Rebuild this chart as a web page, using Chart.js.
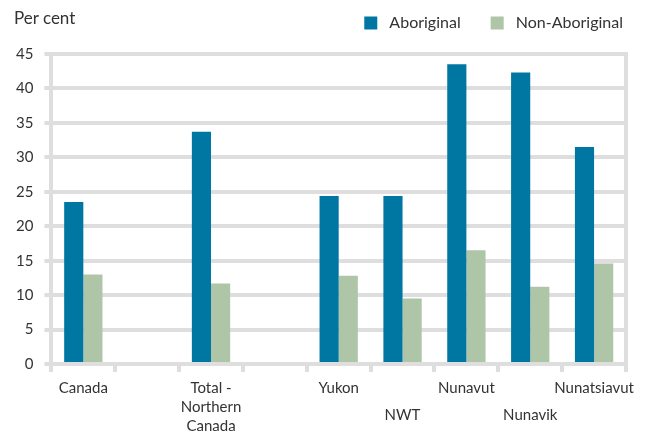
<!DOCTYPE html>
<html>
<head>
<meta charset="utf-8">
<script src="https://cdn.jsdelivr.net/npm/chart.js@4.4.1/dist/chart.umd.min.js"></script>
<style>
  html, body { margin: 0; padding: 0; background: #fff; }
  .wrap { position: relative; width: 647px; height: 431px; }
  .unit {
    position: absolute; left: 14px; top: 7px;
    font: 17px Lato, "Noto Sans", sans-serif; color: #333;
  }
</style>
</head>
<body>
<div class="wrap">
  <div class="unit">Per cent</div>
  <canvas id="chart" width="647" height="431"></canvas>
</div>
<script>
// Regions (blank slots keep the gaps between groups)
const regions = [
  ["Canada"], [""], ["Total -", "Northern", "Canada"], [""],
  ["Yukon"], ["", "NWT"], ["Nunavut"], ["", "Nunavik"], ["Nunatsiavut"]
];
const aboriginal = [23.5, null, 33.7, null, 24.4, 24.4, 43.5, 42.3, 31.5];
const nonAboriginal = [13.0, null, 11.7, null, 12.8, 9.5, 16.5, 11.2, 14.6];
const yTicks = [0, 5, 10, 15, 20, 25, 30, 35, 40, 45];

const gridColor = "#dedede";
const fontFamily = "Lato, 'Noto Sans', sans-serif";

// extra room under the legend
const legendGap = {
  id: "legendGap",
  beforeInit(chart) {
    const fitValue = chart.legend.fit;
    chart.legend.fit = function fit() {
      fitValue.bind(chart.legend)();
      this.height += 13;
    };
  },
};

const ctx = document.getElementById("chart");
new Chart(ctx, {
  type: "bar",
  data: {
    labels: regions,
    datasets: [
      {
        label: "Aboriginal",
        data: aboriginal,
        backgroundColor: "#0077a2",
        categoryPercentage: 0.6,
        barPercentage: 1,
      },
      {
        label: "Non-Aboriginal",
        data: nonAboriginal,
        backgroundColor: "#aec5a8",
        categoryPercentage: 0.6,
        barPercentage: 1,
      },
    ],
  },
  options: {
    responsive: false,
    animation: false,
    layout: {
      padding: { left: 5, right: 10, top: 1, bottom: -12 },
    },
    plugins: {
      legend: {
        position: "top",
        align: "end",
        labels: {
          boxWidth: 13,
          boxHeight: 13,
          padding: 14,
          color: "#333",
          font: { family: fontFamily, size: 16 },
          generateLabels: function (chart) {
            const items = Chart.defaults.plugins.legend.labels.generateLabels(chart);
            // a little more air around the entries
            items.forEach((item, i) => {
              item.text = " " + item.text + (i === 0 ? "\u2002\u2002" : "");
            });
            return items;
          },
        },
      },
      tooltip: { enabled: false },
    },
    scales: {
      x: {
        grid: {
          offset: true,
          drawOnChartArea: false,
          color: gridColor,
          lineWidth: 4,
          tickLength: 8,
        },
        border: { display: true, color: gridColor, width: 4 },
        ticks: {
          autoSkip: false,
          maxRotation: 0,
          padding: 7,
          color: "#333",
          font: function (c) {
            // staggered labels sit lower
            const lbl = regions[c.index] || [];
            const low = lbl.length === 2 && lbl[0] === "";
            return { family: fontFamily, size: 15, lineHeight: low ? "24px" : "19px" };
          },
        },
      },
      y: {
        min: 0,
        max: 45,
        afterBuildTicks: function (axis) {
          axis.ticks = yTicks.map((v) => ({ value: v }));
        },
        grid: {
          color: gridColor,
          lineWidth: 4,
          tickLength: 7,
        },
        border: { display: true, color: gridColor, width: 4 },
        ticks: {
          padding: 11,
          color: "#333",
          font: { family: fontFamily, size: 15 },
        },
      },
      y2: {
        position: "right",
        display: true,
        afterFit: function (axis) {
          axis.width = 11;
        },
        grid: { display: false },
        ticks: { display: false },
        border: { display: true, color: gridColor, width: 4 },
      },
    },
  },
  plugins: [legendGap],
});
</script>
</body>
</html>
